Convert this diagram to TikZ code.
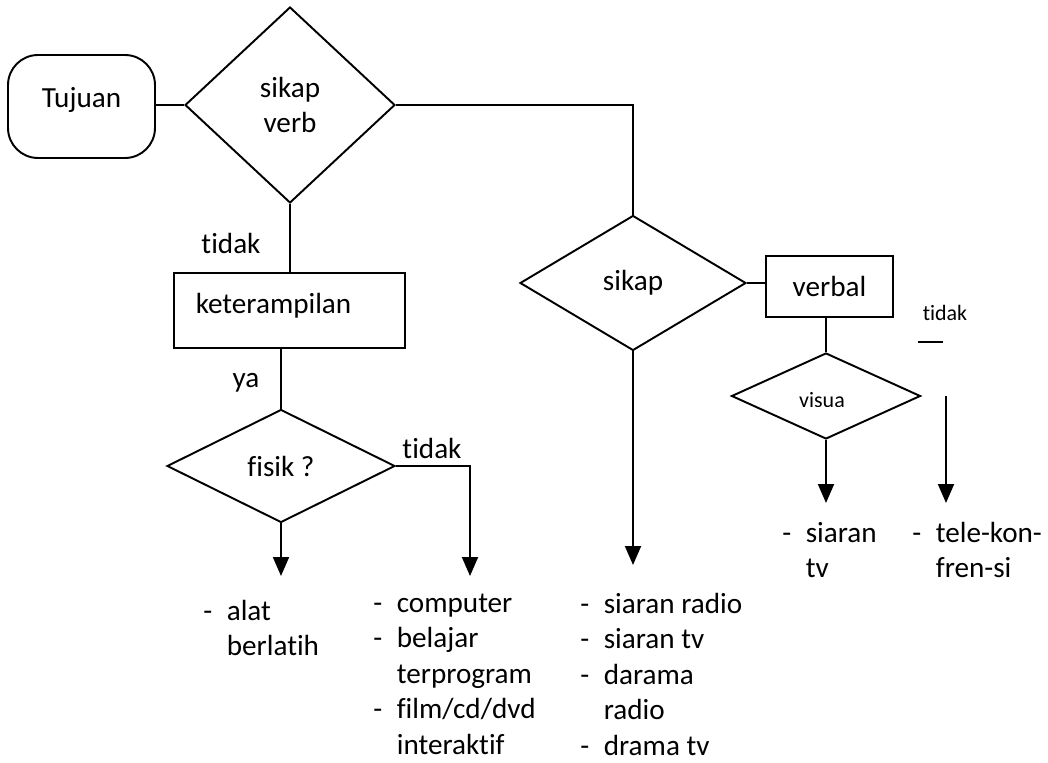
\documentclass[tikz,border=0pt]{standalone}
\usepackage{fontspec}
\setmainfont{Carlito}[Ligatures=NoCommon]
\usetikzlibrary{positioning,arrows.meta,shapes.geometric,calc}

\newcommand{\itm}[1]{\makebox[0.47cm][l]{-}#1}
\newcommand{\cnt}[1]{\hspace*{0.47cm}#1}

\begin{document}
\begin{tikzpicture}[
    x=0.02cm, y=-0.02cm,
    >={Triangle[length=0.38cm, width=0.32cm]},
    every node/.style={font=\fontsize{16.6}{20.2}\selectfont},
    line/.style={line width=1.1pt},
    arr/.style={->, line width=1.1pt},
    startbox/.style={
        draw, rounded corners=0.6cm, line width=1.1pt,
        minimum width=2.94cm, minimum height=2.06cm, inner sep=0pt
    },
    procbox/.style={
        draw, line width=1.1pt, minimum width=#1,
        minimum height=1.5cm, inner sep=0pt
    },
    decision/.style={
        draw, diamond, aspect=1, line width=1.1pt, inner sep=0pt,
        align=center
    },
    lbl/.style={inner sep=0pt},
    smalllbl/.style={inner sep=0pt, font=\fontsize{12.5}{15}\selectfont},
    list/.style={inner sep=0pt, align=left, anchor=base west},
]
\useasboundingbox (0,0) rectangle (1048,763);

% === Top row ===
\node[startbox] (tujuan) at (81.5,106.5) {\raisebox{0.36cm}{Tujuan}};
\node[decision, minimum width=4.2cm, minimum height=3.92cm] (sv) at (290,105) {sikap\\verb};
\draw[line] (tujuan.east |- sv.west) -- (sv.west);

% === Left branch ===
\node[procbox=4.62cm] (keter) at (289.5,310.5) {\raisebox{0.3cm}{keterampilan}\hspace{0.64cm}\mbox{}};
\draw[line] (sv.south) -- (sv.south |- keter.north);
\node[lbl] (tidak1) at (231,243) {tidak};

\node[decision, minimum width=4.56cm, minimum height=2.26cm] (fisik) at (281,466) {fisik ?};
\draw[line] (fisik.north |- keter.south) -- (fisik.north);
\node[lbl] (ya) at (246,383) {ya};

\coordinate (fa) at (281,576);
\coordinate (fb) at (470,576);
\draw[arr] (fisik.south) -- (fa);
\draw[arr] (fisik.east) -| (fb);
\node[lbl] (tidak2) at (432,448) {tidak};

% lists are anchored at the baseline of their last line
\node[list] (alat) at (203,655.5) {\itm{alat}\\ \cnt{berlatih}};
\node[list] (comp) at (373,754) {\itm{computer}\\ \itm{belajar}\\ \cnt{terprogram}\\
    \itm{film/cd/dvd}\\ \cnt{interaktif}};

% === Middle branch ===
\node[decision, minimum width=4.52cm, minimum height=2.7cm] (sikap) at (633,283) {sikap};
\draw[line] (sv.east) -| (sikap.north);
\coordinate (sa) at (633,565);
\draw[arr] (sikap.south) -- (sa);
\node[list] (siaran) at (580,755) {\itm{siaran radio}\\ \itm{siaran tv}\\ \itm{darama}\\
    \cnt{radio}\\ \itm{drama tv}};

% === Right branch ===
\node[procbox=2.54cm, minimum height=1.22cm] (verbal) at (829.5,286.5) {verbal};
\draw[line] (sikap.east) -- (sikap.east -| verbal.west);
\node[decision, minimum width=3.78cm, minimum height=1.72cm] (visua) at (826,396) {};
\begin{scope}
    \clip (790,380) rectangle (860,406.5);
    \node[smalllbl, anchor=base] (visuatxt) at (822,408) {visua};
\end{scope}
\draw[line] (visua.north |- verbal.south) -- (visua.north);
\coordinate (va) at (826,503);
\draw[arr] (visua.south) -- (va);

\node[smalllbl] (tidak3) at (945,313) {tidak};
\coordinate (ta) at (918,342);
\coordinate (tb) at (943,342);
\draw[line] (ta) -- (tb);
\coordinate (tc) at (946,396);
\coordinate (td) at (946,503);
\draw[arr] (tc) -- (td);

\node[list] (tv) at (782,577.5) {\itm{siaran}\\ \cnt{tv}};
\node[list] (tele) at (912,577.5) {\itm{tele-kon-}\\ \cnt{fren-si}};

\end{tikzpicture}
\end{document}
